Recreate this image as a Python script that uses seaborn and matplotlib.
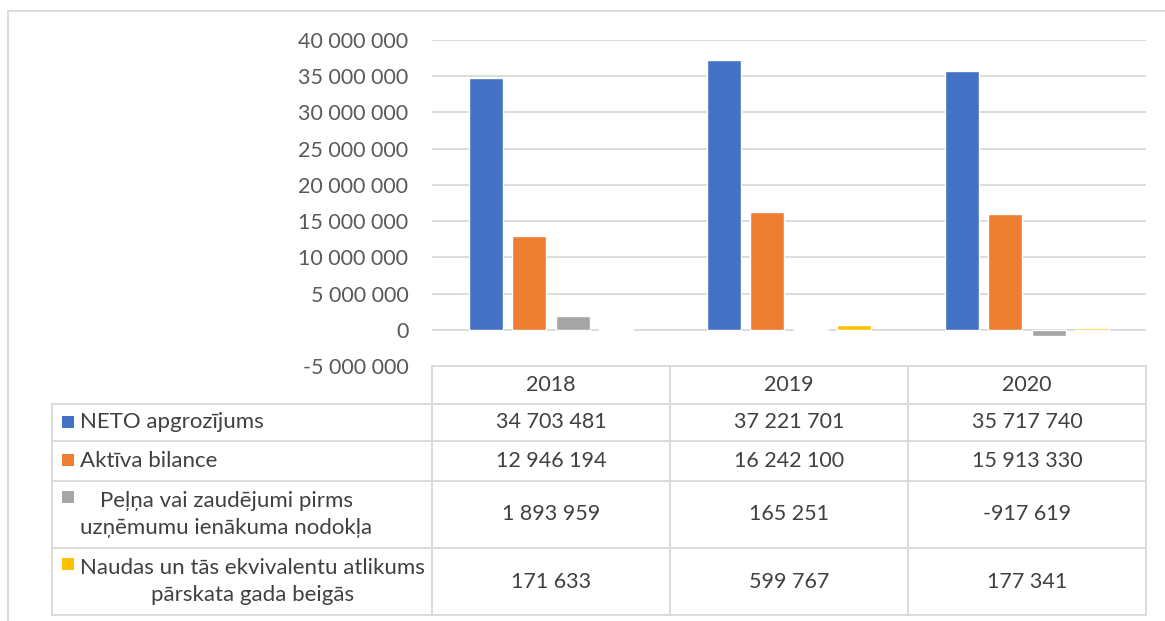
import matplotlib.pyplot as plt
from matplotlib.patches import Rectangle
from matplotlib.lines import Line2D
import seaborn as sns
import pandas as pd

# chart data
years = ["2018", "2019", "2020"]
series_names = [
    "NETO apgrozījums",
    "Aktīva bilance",
    "Peļņa vai zaudējumi pirms\nuzņēmumu ienākuma nodokļa",
    "Naudas un tās ekvivalentu atlikums\npārskata gada beigās",
]
neto = [34703481, 37221701, 35717740]
aktiva = [12946194, 16242100, 15913330]
pelna = [1893959, 165251, -917619]
naudas = [171633, 599767, 177341]
colors = ["#4472c4", "#ed7d31", "#a5a5a5", "#ffc000"]


def fmt(v):
    return f"{v:,}".replace(",", " ")


rows = []
for name, vals in zip(series_names, [neto, aktiva, pelna, naudas]):
    for y, v in zip(years, vals):
        rows.append({"year": y, "series": name, "value": v})
df = pd.DataFrame(rows)

sns.set_theme(style="white")
plt.rcParams["font.family"] = ["Lato", "DejaVu Sans"]

W, H = 1165, 621
fig = plt.figure(figsize=(W / 100, H / 100), dpi=100)
FS = 15.5
FS_LABEL = 16


def fx(px):
    return px / W


def fy(py):
    return 1 - py / H


ax_l, ax_r, ax_t, ax_b = 432, 1146, 40, 366
ax = fig.add_axes([fx(ax_l), fy(ax_b), fx(ax_r - ax_l), (ax_b - ax_t) / H])

sns.barplot(
    data=df, x="year", y="value", hue="series", palette=colors,
    width=0.725, gap=0.21, ax=ax, legend=False, saturation=1,
)
ax.set_ylim(-5_000_000, 40_000_000)
ax.set_xlim(-0.5, 2.5)
ax.set_yticks(range(-5_000_000, 40_000_001, 5_000_000))
ax.set_yticklabels([fmt(v) for v in range(-5_000_000, 40_000_001, 5_000_000)])
ax.tick_params(axis="y", length=0, pad=17, labelsize=FS, labelcolor="#595959")
ax.set_xticks([])
ax.set_xlabel("")
ax.set_ylabel("")
ax.yaxis.grid(True, color="#d9d9d9", linewidth=1.3)
ax.set_axisbelow(True)
for s in ax.spines.values():
    s.set_visible(False)

# outer chart frame
line_c = "#d9d9d9"


def hline(x0, x1, y, lw=1.3):
    fig.add_artist(Line2D([fx(x0), fx(x1)], [fy(y), fy(y)], color=line_c, lw=lw))


def vline(x, y0, y1, lw=1.3):
    fig.add_artist(Line2D([fx(x), fx(x)], [fy(y0), fy(y1)], color=line_c, lw=lw))


hline(8, W, 11)
vline(8, 11, H)

# data table
col_x = [432, 670, 908, 1146]
row_y = [366, 404, 441, 481, 548, 615]
label_x0 = 52

hline(col_x[0], col_x[-1], row_y[0])
for y in row_y[1:]:
    hline(label_x0, col_x[-1], y)
for x in col_x:
    vline(x, row_y[0], row_y[-1])
vline(label_x0, row_y[1], row_y[-1])

text_c = "#404040"
for i, yr in enumerate(years):
    fig.text(fx((col_x[i] + col_x[i + 1]) / 2), fy((row_y[0] + row_y[1]) / 2), yr,
             ha="center", va="center", fontsize=FS, color=text_c)

all_vals = [neto, aktiva, pelna, naudas]
for r, (name, vals, c) in enumerate(zip(series_names, all_vals, colors)):
    ytop, ybot = row_y[r + 1], row_y[r + 2]
    yc = (ytop + ybot) / 2
    two_line = "\n" in name
    sw_y = yc - 17.5 if two_line else yc - 1
    fig.add_artist(Rectangle((fx(62), fy(sw_y + 6)), 12 / W, 12 / H,
                             facecolor=c, edgecolor="none"))
    fig.text(fx(80), fy(yc), name, ha="left", va="center", fontsize=FS_LABEL,
             color=text_c, multialignment="center", linespacing=1.4)
    for i, v in enumerate(vals):
        fig.text(fx((col_x[i] + col_x[i + 1]) / 2), fy(yc), fmt(v),
                 ha="center", va="center", fontsize=FS, color=text_c)

fig.savefig("out.png", dpi=100)
